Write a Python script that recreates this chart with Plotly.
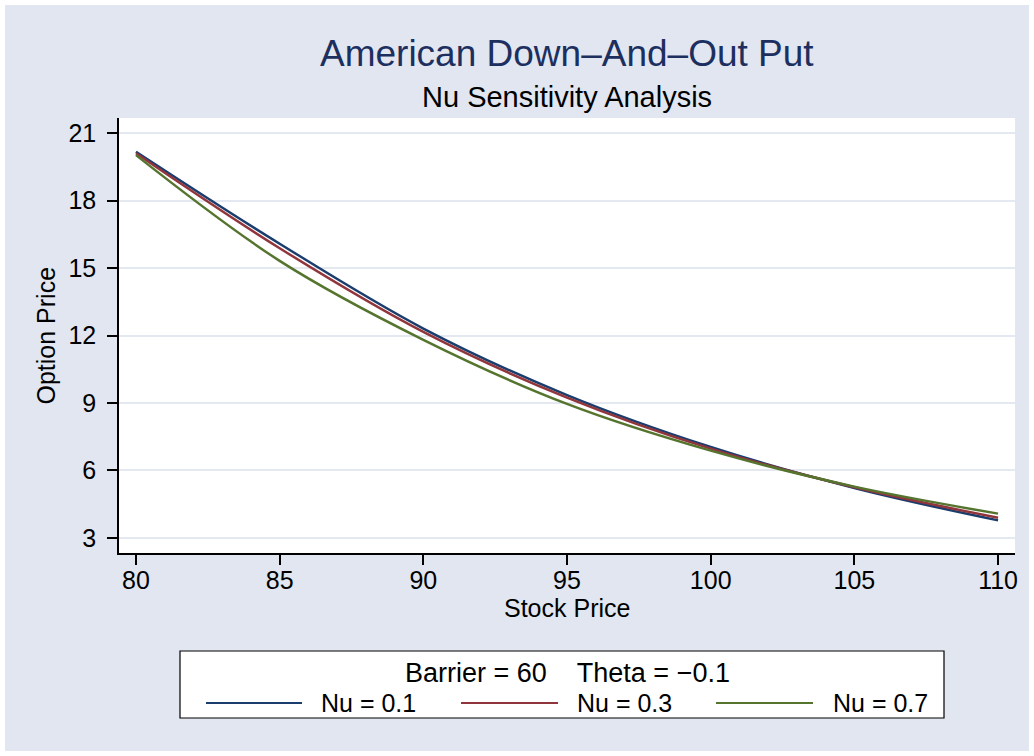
import plotly.graph_objects as go

stock_price = [80, 85, 90, 95, 100, 105, 110]
nu_01 = [20.17, 16.08, 12.31, 9.35, 7.04, 5.22, 3.78]
nu_03 = [20.10, 15.88, 12.16, 9.24, 6.97, 5.25, 3.90]
nu_07 = [20.02, 15.32, 11.81, 8.96, 6.88, 5.28, 4.08]

series_names = ["Nu = 0.1", "Nu = 0.3", "Nu = 0.7"]
series_colors = ["#1a3d6e", "#90353b", "#55752f"]
x_ticks = [80, 85, 90, 95, 100, 105, 110]
y_ticks = [3, 6, 9, 12, 15, 18, 21]
legend_title = "Barrier = 60\u00a0\u00a0\u00a0\u00a0Theta = \u22120.1"

FONT = "Liberation Sans, Arial, Helvetica, sans-serif"
BG = "#E1E6F0"

# plot area in page pixels (figure is offset by 5px body margin)
PL, PR, PT, PB = 119, 1015, 118, 553
def px(x):
    return (x - PL) / (PR - PL)
def py(y):
    return (PB - y) / (PB - PT)

fig = go.Figure()
for name, ys, col in zip(series_names, [nu_01, nu_03, nu_07], series_colors):
    fig.add_trace(go.Scatter(x=stock_price, y=ys, mode="lines", name=name,
                             showlegend=False,
                             line=dict(color=col, width=2.5, shape="spline")))

shapes = []
annotations = []
# title and subtitle
annotations.append(dict(text="American Down\u2013And\u2013Out Put", x=0.5, y=py(53),
                        xref="paper", yref="paper", xanchor="center", yanchor="middle",
                        showarrow=False, font=dict(size=37, color="#1c2f5e", family=FONT)))
annotations.append(dict(text="Nu Sensitivity Analysis", x=0.5, y=py(97),
                        xref="paper", yref="paper", xanchor="center", yanchor="middle",
                        showarrow=False, font=dict(size=29, color="black", family=FONT)))
# legend box
box_l, box_r, box_t, box_b = 180, 944, 651, 718
shapes.append(dict(type="rect", xref="paper", yref="paper",
                   x0=px(box_l), x1=px(box_r), y0=py(box_b), y1=py(box_t),
                   line=dict(color="black", width=1.2), fillcolor="white", layer="above"))
annotations.append(dict(text=legend_title, x=px(567), y=py(673),
                        xref="paper", yref="paper", xanchor="center", yanchor="middle",
                        showarrow=False, font=dict(size=27, color="black", family=FONT)))
item_line_x = [(206, 302), (461, 558), (716, 813)]
item_text_x = [319, 575, 831]
item_y = 703
for name, col, (lx0, lx1), tx in zip(series_names, series_colors, item_line_x, item_text_x):
    shapes.append(dict(type="line", xref="paper", yref="paper",
                       x0=px(lx0), x1=px(lx1), y0=py(item_y), y1=py(item_y),
                       line=dict(color=col, width=2), layer="above"))
    annotations.append(dict(text=name, x=px(tx), y=py(item_y),
                            xref="paper", yref="paper", xanchor="left", yanchor="middle",
                            showarrow=False, font=dict(size=25, color="black", family=FONT)))
# axis titles
annotations.append(dict(text="Stock Price", x=0.5, y=py(608),
                        xref="paper", yref="paper", xanchor="center", yanchor="middle",
                        showarrow=False, font=dict(size=25, color="black", family=FONT)))
annotations.append(dict(text="Option Price", x=px(45), y=0.5, textangle=-90,
                        xref="paper", yref="paper", xanchor="center", yanchor="middle",
                        showarrow=False, font=dict(size=25, color="black", family=FONT)))

fig.update_layout(
    width=1024, height=746,
    paper_bgcolor=BG, plot_bgcolor="white",
    margin=dict(l=PL - 5, r=1029 - PR, t=PT - 5, b=751 - PB),
    font=dict(family=FONT, color="black", size=25),
    showlegend=False,
    shapes=shapes,
    annotations=annotations,
)

fig.update_xaxes(
    range=[79.41, 110.59], tickvals=x_ticks, ticktext=[str(v) for v in x_ticks],
    showgrid=False, zeroline=False,
    showline=True, linecolor="black", linewidth=1.5,
    ticks="outside", ticklen=10, tickcolor="black", tickwidth=1.5,
    tickfont=dict(size=25), ticklabelstandoff=-6,
)
fig.update_yaxes(
    range=[2.33, 21.67], tickvals=y_ticks, ticktext=[str(v) for v in y_ticks],
    showgrid=True, gridcolor="#E3E8F1", gridwidth=2, zeroline=False,
    showline=True, linecolor="black", linewidth=1.5,
    ticks="outside", ticklen=10, tickcolor="black", tickwidth=1.5,
    tickfont=dict(size=25), ticklabelstandoff=6,
)

fig.write_html("out.html",
               post_script="document.body.style.margin='5px';document.body.style.overflow='hidden';")
